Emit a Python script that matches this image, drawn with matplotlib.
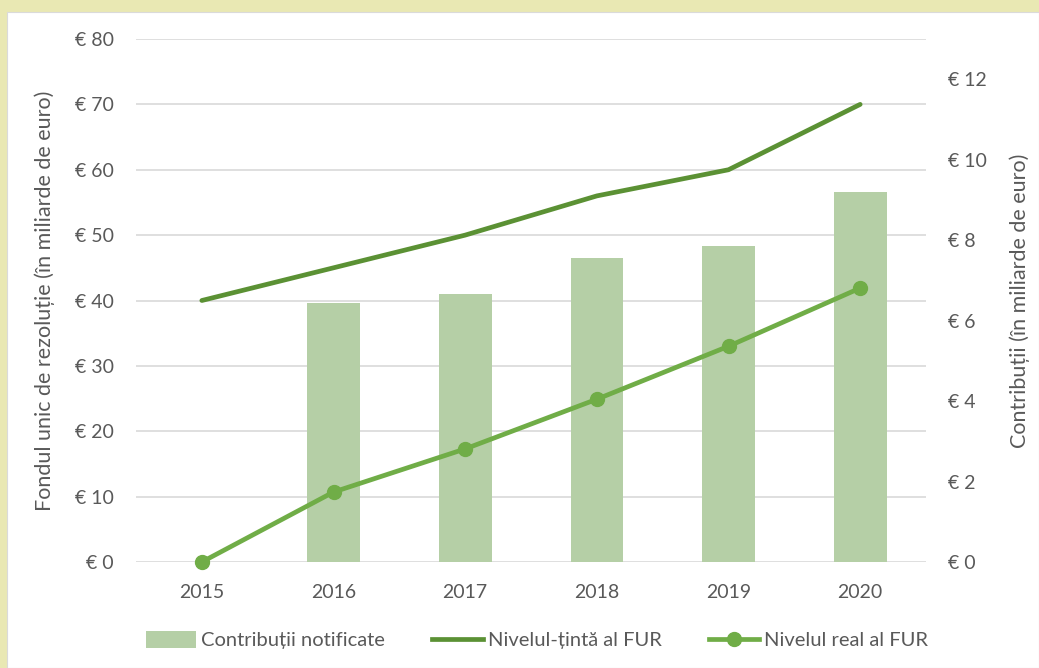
import matplotlib
matplotlib.use("Agg")
import matplotlib.pyplot as plt
from matplotlib.patches import Rectangle
from matplotlib.lines import Line2D
from matplotlib.patches import Patch
import numpy as np

plt.rcParams['font.family'] = ['Lato', 'DejaVu Sans']

years = ["2015", "2016", "2017", "2018", "2019", "2020"]
contributions = [np.nan, 6.43, 6.66, 7.55, 7.85, 9.19]   # right axis, bn EUR
target_level = [40, 45, 50, 56, 60, 70]                  # left axis
real_level = [0, 10.7, 17.3, 24.9, 33.0, 41.9]           # left axis
left_ticks = [0, 10, 20, 30, 40, 50, 60, 70, 80]
right_ticks = [0, 2, 4, 6, 8, 10, 12]

TEXT = "#595959"
BAR = "#B5CFA6"
TARGET = "#5B9134"
REAL = "#70AD47"
GRID = "#D9D9D9"

fig = plt.figure(figsize=(10.39, 6.68), dpi=100, facecolor="#E9E8B3")
fig.patches.append(Rectangle((7/1039, 0), 1 - 7/1039, (668-12)/668, transform=fig.transFigure,
                             facecolor="white", edgecolor="#DADADA", linewidth=0.8, zorder=-10))

ax2 = fig.add_axes([136/1039, 106/668, 790/1039, 523/668])
ax = ax2.twinx()
# ax (left scale, lines) drawn on top of ax2 (bars)
ax.yaxis.tick_left()
ax.yaxis.set_label_position("left")
ax2.yaxis.tick_right()
ax2.yaxis.set_label_position("right")
ax2.set_facecolor("none")
ax.patch.set_visible(False)

x = np.arange(len(years))
ax2.set_ylim(0, 13)
for v in left_ticks:
    ax2.axhline(v * 13 / 80, color=GRID, linewidth=1.2, zorder=1)
ax2.bar(x, contributions, width=0.4, color=BAR, zorder=2)
ax2.set_yticks(right_ticks)
ax2.set_yticklabels([f"€ {v}" for v in right_ticks])
ax2.set_xlim(-0.5, 5.5)
ax2.set_xticks(x)
ax2.set_xticklabels(years)

ax.plot(x, target_level, color=TARGET, linewidth=3.4, solid_capstyle="round", zorder=3)
ax.plot(x, real_level, color=REAL, linewidth=3.4, marker="o", markersize=10, zorder=4,
        clip_on=False)
ax.set_ylim(0, 80)
ax.set_yticks(left_ticks)
ax.set_yticklabels([f"€ {v}" for v in left_ticks])
ax.set_xlim(-0.5, 5.5)

for a in (ax, ax2):
    for s in a.spines.values():
        s.set_visible(False)
    a.tick_params(length=0, colors=TEXT, labelsize=14)
ax.tick_params(axis='y', pad=16)
ax2.tick_params(axis='x', pad=16)
ax2.tick_params(axis='y', pad=16)

ax.set_ylabel("Fondul unic de rezoluție (în miliarde de euro)", color=TEXT, fontsize=15.5, labelpad=14)
ax2.set_ylabel("Contribuții (în miliarde de euro)", color=TEXT, fontsize=15.5, labelpad=16)

handles = [Patch(facecolor=BAR, edgecolor="none"),
           Line2D([], [], color=TARGET, linewidth=3.4),
           Line2D([], [], color=REAL, linewidth=3.4, marker="o", markersize=10)]
labels = ["Contribuții notificate", "Nivelul-țintă al FUR", "Nivelul real al FUR"]
fig.legend(handles, labels, loc="center", bbox_to_anchor=(537/1039, 1 - 640/668), ncol=3,
           frameon=False, fontsize=14.5, labelcolor=TEXT, handlelength=2.5, handletextpad=0.25,
           columnspacing=2.35, handleheight=0.9)

fig.savefig("out.png", dpi=100, facecolor=fig.get_facecolor())
